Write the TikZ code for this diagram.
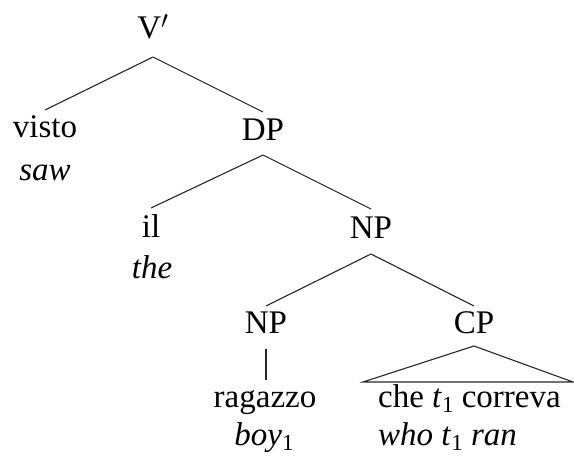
\documentclass[tikz,border=0pt]{standalone}
\usepackage{fontspec}
\setmainfont{Liberation Serif}
\newcommand\lsub[1]{\raisebox{-0.17em}{\fontsize{23}{23}\selectfont\upshape #1}}
\begin{document}
\begin{tikzpicture}[x=1pt,y=-1pt,
  lbl/.style={inner sep=0pt,anchor=base,font=\fontsize{33}{40}\selectfont},
  lblw/.style={inner sep=0pt,anchor=base west,font=\fontsize{33}{40}\selectfont},
  edge/.style={line width=1.1pt,black!85}]
\useasboundingbox (0,0) rectangle (574,458);
% labels
\node[lbl] (vp) at (153,38) {V$'$};
\node[lbl] (visto) at (45,137) {visto};
\node[lbl] (saw) at (45,180) {\textit{saw}};
\node[lbl] (dp) at (263,140) {DP};
\node[lbl] (il) at (151,237) {il};
\node[lbl] (the) at (152,278) {\textit{the}};
\node[lbl] (np) at (371,238) {NP};
\node[lbl] (np2) at (266,333) {NP};
\node[lbl] (cp) at (474,333) {CP};
\node[lbl] (rag) at (265,407) {ragazzo};
\node[lbl] (boy) at (264,445) {\textit{boy}\lsub{1}};
\node[lblw] (che) at (378,407) {che \textit{t}\lsub{1} correva};
\node[lblw] (who) at (378,445) {\textit{who t}\lsub{1} \textit{ran}};
% triangle corners
\coordinate (cpt) at ([yshift=-13pt]cp.base);
\coordinate (tl) at (363,382);
\coordinate (tr) at (573,382);
% connectors
\draw[edge] ([yshift=-19pt]vp.base) -- ([yshift=27pt]visto.base);
\draw[edge] ([yshift=-19pt]vp.base) -- ([yshift=28pt]dp.base);
\draw[edge] ([yshift=-15pt]dp.base) -- ([yshift=29pt]il.base);
\draw[edge] ([yshift=-15pt]dp.base) -- ([yshift=29pt]np.base);
\draw[edge] ([yshift=-16pt]np.base) -- ([yshift=27pt]np2.base);
\draw[edge] ([yshift=-16pt]np.base) -- ([yshift=27pt]cp.base);
\draw[edge] ([yshift=-16pt]np2.base) -- ([yshift=27pt]np2.base |- rag.base);
\draw[edge,line join=miter] (cpt) -- (tl) -- (tr) -- cycle;
\end{tikzpicture}
\end{document}
